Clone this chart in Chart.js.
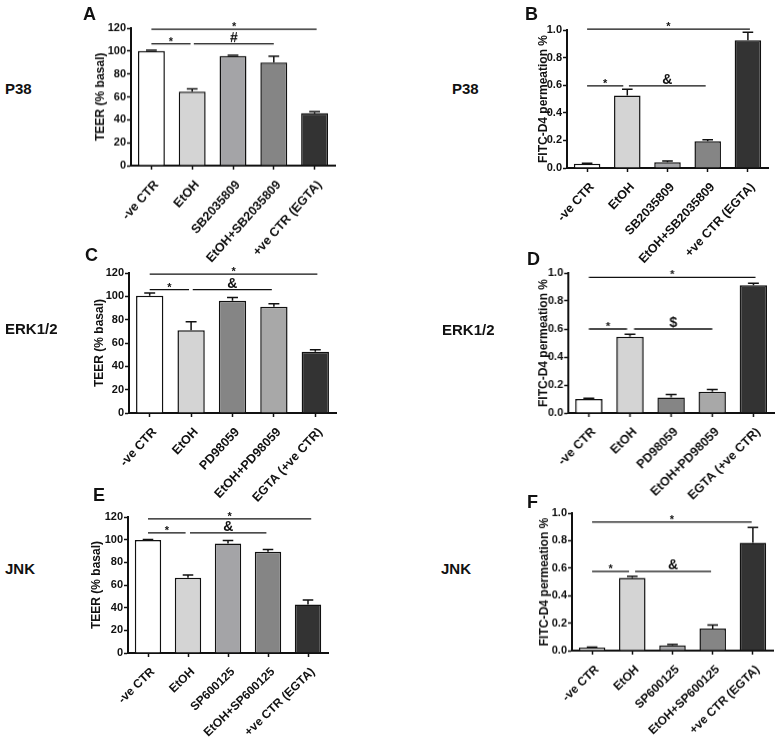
<!DOCTYPE html>
<html>
<head>
<meta charset="utf-8">
<script src="https://cdn.jsdelivr.net/npm/chart.js@4.4.0/dist/chart.umd.min.js"></script>
<style>
  body { margin:0; background:#fff; width:779px; height:737px; position:relative; overflow:hidden;
         font-family: "Liberation Sans", Arial, sans-serif; }
  canvas { position:absolute; }
  .lbl { position:absolute; font-weight:bold; line-height:1; color:#111; white-space:nowrap; }
</style>
</head>
<body>
<script>
// ── categories ──────────────────────────────────────────────
const catsP38 = ['-ve CTR', 'EtOH', 'SB2035809', 'EtOH+SB2035809', '+ve CTR (EGTA)'];
const catsERK = ['-ve CTR', 'EtOH', 'PD98059', 'EtOH+PD98059', 'EGTA (+ve CTR)'];
const catsJNK = ['-ve CTR', 'EtOH', 'SP600125', 'EtOH+SP600125', '+ve CTR (EGTA)'];

// ── values (mean) and error (SEM) ──────────────────────────
const teerP38    = [100, 64.5, 95.8, 90, 45.7];
const teerP38Err = [0.7, 2.5, 0.6, 5.5, 1.3];
const fitcP38    = [0.031, 0.525, 0.041, 0.193, 0.925];
const fitcP38Err = [0.004, 0.045, 0.009, 0.012, 0.058];

const teerERK    = [100.5, 70.9, 96.3, 91.1, 52.6];
const teerERKErr = [2.3, 7.4, 2.6, 2.6, 1.7];
const fitcERK    = [0.1, 0.545, 0.11, 0.152, 0.912];
const fitcERKErr = [0.006, 0.017, 0.023, 0.016, 0.014];

const teerJNK    = [99.6, 66.5, 96.6, 89.3, 42.7];
const teerJNKErr = [0.5, 2.4, 2.6, 2.0, 4.1];
const fitcJNK    = [0.021, 0.53, 0.039, 0.16, 0.785];
const fitcJNKErr = [0.004, 0.01, 0.007, 0.026, 0.111];

// significance brackets: [from index, to index, y value, mark]
const sigA = [[0, 4.05, 119, '*'], [0, 0.96, 106.3, '*'], [1.04, 3, 106.3, '#']];
const sigB = [[0, 4.05, 1.007, '*'], [0, 0.9, 0.595, '*'], [1.04, 2.95, 0.595, '&']];
const sigC = [[0, 4.05, 119.1, '*'], [0, 0.95, 105.7, '*'], [1.04, 2.95, 105.7, '&']];
const sigD = [[0, 4.05, 0.969, '*'], [0, 0.93, 0.6, '*'], [1.1, 3, 0.6, '$']];
const sigE = [[0, 4.08, 118.3, '*'], [0, 0.94, 106, '*'], [1.05, 2.96, 106, '&']];
const sigF = [[0, 3.97, 0.935, '*'], [0, 0.92, 0.576, '*'], [1.07, 2.96, 0.576, '&']];

const teerTitle = 'TEER (% basal)';
const fitcTitle = 'FITC-D4 permeation %';

const greysA = ['#ffffff', '#d4d4d4', '#a4a4a7', '#858585', '#333333'];
const greysC = ['#ffffff', '#d4d4d4', '#858585', '#a8a8a8', '#333333'];

const FONT = '"Liberation Sans", Arial, sans-serif';
const INK = '#111';
const YW = 75, PT = 30, PR = 10, XH = 115;

const extras = {
  id: 'extras',
  afterDatasetsDraw(chart, args, o) {
    const { ctx, scales: { x, y } } = chart;
    const meta = chart.getDatasetMeta(0);
    const vals = chart.data.datasets[0].data;
    ctx.save();
    ctx.strokeStyle = INK;
    ctx.lineWidth = 1.5;
    o.err.forEach((e, i) => {
      const bar = meta.data[i];
      const top = y.getPixelForValue(vals[i] + e);
      const cap = bar.width * 0.2;
      ctx.beginPath();
      ctx.moveTo(bar.x, bar.y);
      ctx.lineTo(bar.x, top);
      ctx.moveTo(bar.x - cap, top);
      ctx.lineTo(bar.x + cap, top);
      ctx.stroke();
    });
    ctx.fillStyle = INK;
    ctx.textAlign = 'center';
    ctx.textBaseline = 'alphabetic';
    o.sig.forEach(([a, b, v, mark]) => {
      const x1 = x.getPixelForValue(a), x2 = x.getPixelForValue(b);
      const py = y.getPixelForValue(v);
      ctx.lineWidth = 1.3;
      ctx.beginPath();
      ctx.moveTo(x1, py);
      ctx.lineTo(x2, py);
      ctx.stroke();
      if (mark === '*') {
        ctx.font = 'bold 11px ' + FONT;
        ctx.fillText(mark, (x1 + x2) / 2, py + 1);
      } else {
        ctx.font = 'bold 14px ' + FONT;
        ctx.fillText(mark, (x1 + x2) / 2, py - 2);
      }
    });
    // rotated category labels, right end anchored just under each tick
    ctx.font = 'bold ' + o.labSize + 'px ' + FONT;
    ctx.textAlign = 'right';
    ctx.textBaseline = 'middle';
    chart.data.labels.forEach((lab, i) => {
      const px = x.getPixelForTick(i);
      ctx.save();
      ctx.translate(px + 5, x.top + 17);
      ctx.rotate(-o.labAngle * Math.PI / 180);
      ctx.fillText(lab, 0, 0);
      ctx.restore();
    });
    ctx.restore();
  }
};

function panel(p) {
  const c = document.createElement('canvas');
  const left = p.ax - YW, top = p.ytop - PT;
  const w = (p.ar - p.ax) + YW + PR, h = (p.ybot - p.ytop) + PT + XH;
  c.width = w; c.height = h;
  c.style.left = left + 'px'; c.style.top = top + 'px';
  c.style.width = w + 'px'; c.style.height = h + 'px';
  document.body.appendChild(c);

  new Chart(c, {
    type: 'bar',
    data: {
      labels: p.cats,
      datasets: [{
        data: p.vals,
        backgroundColor: p.colors,
        borderColor: INK,
        borderWidth: 1.5,
        borderSkipped: 'bottom',
        categoryPercentage: 1,
        barPercentage: 0.66
      }]
    },
    options: {
      responsive: false,
      animation: false,
      devicePixelRatio: 1,
      layout: { padding: { top: PT, right: PR, left: 0, bottom: 0 } },
      plugins: { legend: { display: false }, tooltip: { enabled: false },
                 extras: { err: p.errs, sig: p.sig, labSize: p.labSize, labAngle: p.labAngle } },
      scales: {
        x: {
          offset: true,
          grid: { display: true, drawOnChartArea: false, offset: false, tickLength: 4, tickWidth: 1.5, tickColor: INK },
          border: { display: true, color: INK, width: 2 },
          ticks: { display: false },
          afterFit(s) { s.height = XH; }
        },
        y: {
          min: 0, max: p.max,
          grid: { display: true, drawOnChartArea: false, tickLength: 4, tickWidth: 1.5, tickColor: INK },
          border: { display: true, color: INK, width: 2 },
          ticks: { stepSize: p.step, padding: 1, color: INK,
                   font: { family: FONT, size: 11, weight: 'bold' },
                   callback: v => p.dec ? v.toFixed(p.dec) : v },
          title: { display: true, text: p.title, color: INK,
                   font: { family: FONT, size: 12, weight: 'bold', lineHeight: 1.2 },
                   padding: { top: p.titleX - left - 7.2, bottom: 0 } },
          afterFit(s) { s.width = YW; }
        }
      }
    },
    plugins: [extras]
  });
}

panel({ cats: catsP38, vals: teerP38, errs: teerP38Err, sig: sigA, colors: greysA, max: 120, step: 20, dec: 0,
        title: teerTitle, ax: 130.7, ar: 335, ytop: 28.3, ybot: 165.7, titleX: 100.7, labSize: 12.5, labAngle: 48 });
panel({ cats: catsP38, vals: fitcP38, errs: fitcP38Err, sig: sigB, colors: greysA, max: 1, step: 0.2, dec: 1,
        title: fitcTitle, ax: 566.7, ar: 768, ytop: 30, ybot: 168.3, titleX: 543.3, labSize: 12.5, labAngle: 47 });
panel({ cats: catsERK, vals: teerERK, errs: teerERKErr, sig: sigC, colors: greysC, max: 120, step: 20, dec: 0,
        title: teerTitle, ax: 129, ar: 336, ytop: 273.3, ybot: 413.3, titleX: 100, labSize: 12.5, labAngle: 47 });
panel({ cats: catsERK, vals: fitcERK, errs: fitcERKErr, sig: sigD, colors: greysC, max: 1, step: 0.2, dec: 1,
        title: fitcTitle, ax: 568.3, ar: 774, ytop: 273.3, ybot: 413.3, titleX: 544, labSize: 12.5, labAngle: 45 });
panel({ cats: catsJNK, vals: teerJNK, errs: teerJNKErr, sig: sigE, colors: greysA, max: 120, step: 20, dec: 0,
        title: teerTitle, ax: 128.3, ar: 328.3, ytop: 516.7, ybot: 653.3, titleX: 97.3, labSize: 12, labAngle: 44 });
panel({ cats: catsJNK, vals: fitcJNK, errs: fitcJNKErr, sig: sigF, colors: greysA, max: 1, step: 0.2, dec: 1,
        title: fitcTitle, ax: 571.7, ar: 773, ytop: 513.3, ybot: 651, titleX: 544, labSize: 12, labAngle: 44 });

// panel letters and row labels
const texts = [
  ['A', 83, 4.7, 18], ['B', 525, 4.7, 18], ['C', 85, 245.7, 18],
  ['D', 527, 249.7, 18], ['E', 93, 485.7, 18], ['F', 527, 492.7, 18],
  ['P38', 5, 80.6, 15], ['ERK1/2', 5, 320.6, 15], ['JNK', 5, 560.6, 15],
  ['P38', 452, 80.6, 15], ['ERK1/2', 442, 321.6, 15], ['JNK', 441, 560.6, 15]
];
texts.forEach(([t, x, y, s]) => {
  const d = document.createElement('div');
  d.className = 'lbl';
  d.textContent = t;
  d.style.left = x + 'px'; d.style.top = y + 'px'; d.style.fontSize = s + 'px';
  document.body.appendChild(d);
});
</script>
</body>
</html>
